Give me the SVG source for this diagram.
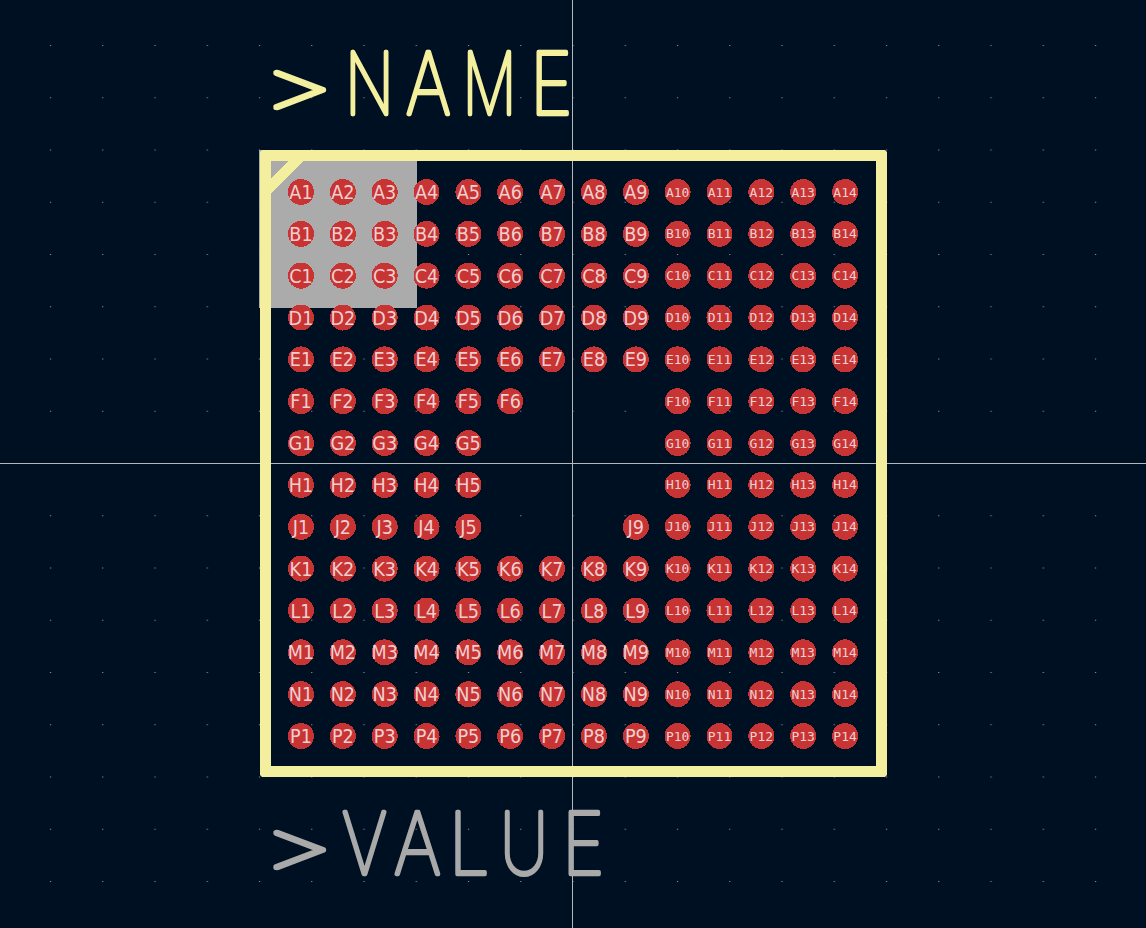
<svg xmlns="http://www.w3.org/2000/svg" width="1146" height="928" viewBox="0 0 1146 928">
<style>
.p circle{fill:#c83434;shape-rendering:crispEdges}
.p text{text-anchor:middle;fill:#efcfcf}
.a text{font-family:"DejaVu Sans",sans-serif;font-stretch:condensed;font-size:19.6px}
.b text{font-family:"DejaVu Sans Mono",monospace;font-size:13px}
.big{font-family:Inter,"Liberation Sans",sans-serif;font-weight:100;font-size:85px;stroke-width:4.4px;stroke-linejoin:round;stroke-linecap:round}
.gt{font-size:68px}
</style>
<defs>
<pattern id="grid" x="49.9" y="45" width="52.25" height="52.25" patternUnits="userSpaceOnUse"><rect width="1.2" height="1" fill="#8a9098"/></pattern>
</defs>
<rect width="1146" height="928" fill="#001023"/>
<rect width="1146" height="928" fill="url(#grid)"/>
<g id="connectors"></g>
<g id="crosshair" stroke="#b4b8bc" stroke-width="1"><path d="M572.5 0V928M0 463.5H1146" fill="none"/></g>
<rect id="anchor" x="259" y="150" width="158" height="158" fill="#ababab"/>
<g id="outline" fill="#f4ee9f"><path fill-rule="evenodd" d="M262 150H885L887 152V775L885 777H262L260 775V152ZM271 161V766H876V161Z"/><path shape-rendering="crispEdges" d="M271 178L288 161H303L271 193Z"/></g>
<text id="name" class="big" fill="#f4ee9f" stroke="#f4ee9f" lengthAdjust="spacingAndGlyphs"><tspan class="gt" x="260.5" y="109" textLength="74" lengthAdjust="spacingAndGlyphs">&gt;</tspan><tspan x="345" y="114" textLength="49" lengthAdjust="spacingAndGlyphs">N</tspan><tspan x="406" y="114" textLength="44.6" lengthAdjust="spacingAndGlyphs">A</tspan><tspan x="462.5" y="114" textLength="54" lengthAdjust="spacingAndGlyphs">M</tspan><tspan x="530.3" y="114" textLength="42" lengthAdjust="spacingAndGlyphs">E</tspan></text>
<text id="value" class="big" fill="#a9a9a9" stroke="#a9a9a9"><tspan class="gt" x="260.5" y="869" textLength="74" lengthAdjust="spacingAndGlyphs">&gt;</tspan><tspan x="342" y="874" textLength="45" lengthAdjust="spacingAndGlyphs">V</tspan><tspan x="394" y="874" textLength="46.8" lengthAdjust="spacingAndGlyphs">A</tspan><tspan x="449" y="874" textLength="40.5" lengthAdjust="spacingAndGlyphs">L</tspan><tspan x="500" y="874" textLength="48" lengthAdjust="spacingAndGlyphs">U</tspan><tspan x="562.3" y="874" textLength="42" lengthAdjust="spacingAndGlyphs">E</tspan></text>
<g class="p a">
<g id="A1" transform="translate(301 192)"><circle r="13"/><text y="7">A1</text></g>
<g id="A2" transform="translate(342.85 192)"><circle r="13"/><text y="7">A2</text></g>
<g id="A3" transform="translate(384.7 192)"><circle r="13"/><text y="7">A3</text></g>
<g id="A4" transform="translate(426.55 192)"><circle r="13"/><text y="7">A4</text></g>
<g id="A5" transform="translate(468.4 192)"><circle r="13"/><text y="7">A5</text></g>
<g id="A6" transform="translate(510.25 192)"><circle r="13"/><text y="7">A6</text></g>
<g id="A7" transform="translate(552.1 192)"><circle r="13"/><text y="7">A7</text></g>
<g id="A8" transform="translate(593.95 192)"><circle r="13"/><text y="7">A8</text></g>
<g id="A9" transform="translate(635.8 192)"><circle r="13"/><text y="7">A9</text></g>
<g id="B1" transform="translate(301 233.85)"><circle r="13"/><text y="7">B1</text></g>
<g id="B2" transform="translate(342.85 233.85)"><circle r="13"/><text y="7">B2</text></g>
<g id="B3" transform="translate(384.7 233.85)"><circle r="13"/><text y="7">B3</text></g>
<g id="B4" transform="translate(426.55 233.85)"><circle r="13"/><text y="7">B4</text></g>
<g id="B5" transform="translate(468.4 233.85)"><circle r="13"/><text y="7">B5</text></g>
<g id="B6" transform="translate(510.25 233.85)"><circle r="13"/><text y="7">B6</text></g>
<g id="B7" transform="translate(552.1 233.85)"><circle r="13"/><text y="7">B7</text></g>
<g id="B8" transform="translate(593.95 233.85)"><circle r="13"/><text y="7">B8</text></g>
<g id="B9" transform="translate(635.8 233.85)"><circle r="13"/><text y="7">B9</text></g>
<g id="C1" transform="translate(301 275.7)"><circle r="13"/><text y="7">C1</text></g>
<g id="C2" transform="translate(342.85 275.7)"><circle r="13"/><text y="7">C2</text></g>
<g id="C3" transform="translate(384.7 275.7)"><circle r="13"/><text y="7">C3</text></g>
<g id="C4" transform="translate(426.55 275.7)"><circle r="13"/><text y="7">C4</text></g>
<g id="C5" transform="translate(468.4 275.7)"><circle r="13"/><text y="7">C5</text></g>
<g id="C6" transform="translate(510.25 275.7)"><circle r="13"/><text y="7">C6</text></g>
<g id="C7" transform="translate(552.1 275.7)"><circle r="13"/><text y="7">C7</text></g>
<g id="C8" transform="translate(593.95 275.7)"><circle r="13"/><text y="7">C8</text></g>
<g id="C9" transform="translate(635.8 275.7)"><circle r="13"/><text y="7">C9</text></g>
<g id="D1" transform="translate(301 317.55)"><circle r="13"/><text y="7">D1</text></g>
<g id="D2" transform="translate(342.85 317.55)"><circle r="13"/><text y="7">D2</text></g>
<g id="D3" transform="translate(384.7 317.55)"><circle r="13"/><text y="7">D3</text></g>
<g id="D4" transform="translate(426.55 317.55)"><circle r="13"/><text y="7">D4</text></g>
<g id="D5" transform="translate(468.4 317.55)"><circle r="13"/><text y="7">D5</text></g>
<g id="D6" transform="translate(510.25 317.55)"><circle r="13"/><text y="7">D6</text></g>
<g id="D7" transform="translate(552.1 317.55)"><circle r="13"/><text y="7">D7</text></g>
<g id="D8" transform="translate(593.95 317.55)"><circle r="13"/><text y="7">D8</text></g>
<g id="D9" transform="translate(635.8 317.55)"><circle r="13"/><text y="7">D9</text></g>
<g id="E1" transform="translate(301 359.4)"><circle r="13"/><text y="7">E1</text></g>
<g id="E2" transform="translate(342.85 359.4)"><circle r="13"/><text y="7">E2</text></g>
<g id="E3" transform="translate(384.7 359.4)"><circle r="13"/><text y="7">E3</text></g>
<g id="E4" transform="translate(426.55 359.4)"><circle r="13"/><text y="7">E4</text></g>
<g id="E5" transform="translate(468.4 359.4)"><circle r="13"/><text y="7">E5</text></g>
<g id="E6" transform="translate(510.25 359.4)"><circle r="13"/><text y="7">E6</text></g>
<g id="E7" transform="translate(552.1 359.4)"><circle r="13"/><text y="7">E7</text></g>
<g id="E8" transform="translate(593.95 359.4)"><circle r="13"/><text y="7">E8</text></g>
<g id="E9" transform="translate(635.8 359.4)"><circle r="13"/><text y="7">E9</text></g>
<g id="F1" transform="translate(301 401.25)"><circle r="13"/><text y="7">F1</text></g>
<g id="F2" transform="translate(342.85 401.25)"><circle r="13"/><text y="7">F2</text></g>
<g id="F3" transform="translate(384.7 401.25)"><circle r="13"/><text y="7">F3</text></g>
<g id="F4" transform="translate(426.55 401.25)"><circle r="13"/><text y="7">F4</text></g>
<g id="F5" transform="translate(468.4 401.25)"><circle r="13"/><text y="7">F5</text></g>
<g id="F6" transform="translate(510.25 401.25)"><circle r="13"/><text y="7">F6</text></g>
<g id="G1" transform="translate(301 443.1)"><circle r="13"/><text y="7">G1</text></g>
<g id="G2" transform="translate(342.85 443.1)"><circle r="13"/><text y="7">G2</text></g>
<g id="G3" transform="translate(384.7 443.1)"><circle r="13"/><text y="7">G3</text></g>
<g id="G4" transform="translate(426.55 443.1)"><circle r="13"/><text y="7">G4</text></g>
<g id="G5" transform="translate(468.4 443.1)"><circle r="13"/><text y="7">G5</text></g>
<g id="H1" transform="translate(301 484.95)"><circle r="13"/><text y="7">H1</text></g>
<g id="H2" transform="translate(342.85 484.95)"><circle r="13"/><text y="7">H2</text></g>
<g id="H3" transform="translate(384.7 484.95)"><circle r="13"/><text y="7">H3</text></g>
<g id="H4" transform="translate(426.55 484.95)"><circle r="13"/><text y="7">H4</text></g>
<g id="H5" transform="translate(468.4 484.95)"><circle r="13"/><text y="7">H5</text></g>
<g id="J1" transform="translate(301 526.8)"><circle r="13"/><text y="7">J1</text></g>
<g id="J2" transform="translate(342.85 526.8)"><circle r="13"/><text y="7">J2</text></g>
<g id="J3" transform="translate(384.7 526.8)"><circle r="13"/><text y="7">J3</text></g>
<g id="J4" transform="translate(426.55 526.8)"><circle r="13"/><text y="7">J4</text></g>
<g id="J5" transform="translate(468.4 526.8)"><circle r="13"/><text y="7">J5</text></g>
<g id="J9" transform="translate(635.8 526.8)"><circle r="13"/><text y="7">J9</text></g>
<g id="K1" transform="translate(301 568.65)"><circle r="13"/><text y="7">K1</text></g>
<g id="K2" transform="translate(342.85 568.65)"><circle r="13"/><text y="7">K2</text></g>
<g id="K3" transform="translate(384.7 568.65)"><circle r="13"/><text y="7">K3</text></g>
<g id="K4" transform="translate(426.55 568.65)"><circle r="13"/><text y="7">K4</text></g>
<g id="K5" transform="translate(468.4 568.65)"><circle r="13"/><text y="7">K5</text></g>
<g id="K6" transform="translate(510.25 568.65)"><circle r="13"/><text y="7">K6</text></g>
<g id="K7" transform="translate(552.1 568.65)"><circle r="13"/><text y="7">K7</text></g>
<g id="K8" transform="translate(593.95 568.65)"><circle r="13"/><text y="7">K8</text></g>
<g id="K9" transform="translate(635.8 568.65)"><circle r="13"/><text y="7">K9</text></g>
<g id="L1" transform="translate(301 610.5)"><circle r="13"/><text y="7">L1</text></g>
<g id="L2" transform="translate(342.85 610.5)"><circle r="13"/><text y="7">L2</text></g>
<g id="L3" transform="translate(384.7 610.5)"><circle r="13"/><text y="7">L3</text></g>
<g id="L4" transform="translate(426.55 610.5)"><circle r="13"/><text y="7">L4</text></g>
<g id="L5" transform="translate(468.4 610.5)"><circle r="13"/><text y="7">L5</text></g>
<g id="L6" transform="translate(510.25 610.5)"><circle r="13"/><text y="7">L6</text></g>
<g id="L7" transform="translate(552.1 610.5)"><circle r="13"/><text y="7">L7</text></g>
<g id="L8" transform="translate(593.95 610.5)"><circle r="13"/><text y="7">L8</text></g>
<g id="L9" transform="translate(635.8 610.5)"><circle r="13"/><text y="7">L9</text></g>
<g id="M1" transform="translate(301 652.35)"><circle r="13"/><text y="7">M1</text></g>
<g id="M2" transform="translate(342.85 652.35)"><circle r="13"/><text y="7">M2</text></g>
<g id="M3" transform="translate(384.7 652.35)"><circle r="13"/><text y="7">M3</text></g>
<g id="M4" transform="translate(426.55 652.35)"><circle r="13"/><text y="7">M4</text></g>
<g id="M5" transform="translate(468.4 652.35)"><circle r="13"/><text y="7">M5</text></g>
<g id="M6" transform="translate(510.25 652.35)"><circle r="13"/><text y="7">M6</text></g>
<g id="M7" transform="translate(552.1 652.35)"><circle r="13"/><text y="7">M7</text></g>
<g id="M8" transform="translate(593.95 652.35)"><circle r="13"/><text y="7">M8</text></g>
<g id="M9" transform="translate(635.8 652.35)"><circle r="13"/><text y="7">M9</text></g>
<g id="N1" transform="translate(301 694.2)"><circle r="13"/><text y="7">N1</text></g>
<g id="N2" transform="translate(342.85 694.2)"><circle r="13"/><text y="7">N2</text></g>
<g id="N3" transform="translate(384.7 694.2)"><circle r="13"/><text y="7">N3</text></g>
<g id="N4" transform="translate(426.55 694.2)"><circle r="13"/><text y="7">N4</text></g>
<g id="N5" transform="translate(468.4 694.2)"><circle r="13"/><text y="7">N5</text></g>
<g id="N6" transform="translate(510.25 694.2)"><circle r="13"/><text y="7">N6</text></g>
<g id="N7" transform="translate(552.1 694.2)"><circle r="13"/><text y="7">N7</text></g>
<g id="N8" transform="translate(593.95 694.2)"><circle r="13"/><text y="7">N8</text></g>
<g id="N9" transform="translate(635.8 694.2)"><circle r="13"/><text y="7">N9</text></g>
<g id="P1" transform="translate(301 736.05)"><circle r="13"/><text y="7">P1</text></g>
<g id="P2" transform="translate(342.85 736.05)"><circle r="13"/><text y="7">P2</text></g>
<g id="P3" transform="translate(384.7 736.05)"><circle r="13"/><text y="7">P3</text></g>
<g id="P4" transform="translate(426.55 736.05)"><circle r="13"/><text y="7">P4</text></g>
<g id="P5" transform="translate(468.4 736.05)"><circle r="13"/><text y="7">P5</text></g>
<g id="P6" transform="translate(510.25 736.05)"><circle r="13"/><text y="7">P6</text></g>
<g id="P7" transform="translate(552.1 736.05)"><circle r="13"/><text y="7">P7</text></g>
<g id="P8" transform="translate(593.95 736.05)"><circle r="13"/><text y="7">P8</text></g>
<g id="P9" transform="translate(635.8 736.05)"><circle r="13"/><text y="7">P9</text></g>
</g>
<g class="p b">
<g id="A10" transform="translate(677.65 192)"><circle r="13"/><text y="4.5">A10</text></g>
<g id="A11" transform="translate(719.5 192)"><circle r="13"/><text y="4.5">A11</text></g>
<g id="A12" transform="translate(761.35 192)"><circle r="13"/><text y="4.5">A12</text></g>
<g id="A13" transform="translate(803.2 192)"><circle r="13"/><text y="4.5">A13</text></g>
<g id="A14" transform="translate(845.05 192)"><circle r="13"/><text y="4.5">A14</text></g>
<g id="B10" transform="translate(677.65 233.85)"><circle r="13"/><text y="4.5">B10</text></g>
<g id="B11" transform="translate(719.5 233.85)"><circle r="13"/><text y="4.5">B11</text></g>
<g id="B12" transform="translate(761.35 233.85)"><circle r="13"/><text y="4.5">B12</text></g>
<g id="B13" transform="translate(803.2 233.85)"><circle r="13"/><text y="4.5">B13</text></g>
<g id="B14" transform="translate(845.05 233.85)"><circle r="13"/><text y="4.5">B14</text></g>
<g id="C10" transform="translate(677.65 275.7)"><circle r="13"/><text y="4.5">C10</text></g>
<g id="C11" transform="translate(719.5 275.7)"><circle r="13"/><text y="4.5">C11</text></g>
<g id="C12" transform="translate(761.35 275.7)"><circle r="13"/><text y="4.5">C12</text></g>
<g id="C13" transform="translate(803.2 275.7)"><circle r="13"/><text y="4.5">C13</text></g>
<g id="C14" transform="translate(845.05 275.7)"><circle r="13"/><text y="4.5">C14</text></g>
<g id="D10" transform="translate(677.65 317.55)"><circle r="13"/><text y="4.5">D10</text></g>
<g id="D11" transform="translate(719.5 317.55)"><circle r="13"/><text y="4.5">D11</text></g>
<g id="D12" transform="translate(761.35 317.55)"><circle r="13"/><text y="4.5">D12</text></g>
<g id="D13" transform="translate(803.2 317.55)"><circle r="13"/><text y="4.5">D13</text></g>
<g id="D14" transform="translate(845.05 317.55)"><circle r="13"/><text y="4.5">D14</text></g>
<g id="E10" transform="translate(677.65 359.4)"><circle r="13"/><text y="4.5">E10</text></g>
<g id="E11" transform="translate(719.5 359.4)"><circle r="13"/><text y="4.5">E11</text></g>
<g id="E12" transform="translate(761.35 359.4)"><circle r="13"/><text y="4.5">E12</text></g>
<g id="E13" transform="translate(803.2 359.4)"><circle r="13"/><text y="4.5">E13</text></g>
<g id="E14" transform="translate(845.05 359.4)"><circle r="13"/><text y="4.5">E14</text></g>
<g id="F10" transform="translate(677.65 401.25)"><circle r="13"/><text y="4.5">F10</text></g>
<g id="F11" transform="translate(719.5 401.25)"><circle r="13"/><text y="4.5">F11</text></g>
<g id="F12" transform="translate(761.35 401.25)"><circle r="13"/><text y="4.5">F12</text></g>
<g id="F13" transform="translate(803.2 401.25)"><circle r="13"/><text y="4.5">F13</text></g>
<g id="F14" transform="translate(845.05 401.25)"><circle r="13"/><text y="4.5">F14</text></g>
<g id="G10" transform="translate(677.65 443.1)"><circle r="13"/><text y="4.5">G10</text></g>
<g id="G11" transform="translate(719.5 443.1)"><circle r="13"/><text y="4.5">G11</text></g>
<g id="G12" transform="translate(761.35 443.1)"><circle r="13"/><text y="4.5">G12</text></g>
<g id="G13" transform="translate(803.2 443.1)"><circle r="13"/><text y="4.5">G13</text></g>
<g id="G14" transform="translate(845.05 443.1)"><circle r="13"/><text y="4.5">G14</text></g>
<g id="H10" transform="translate(677.65 484.95)"><circle r="13"/><text y="4.5">H10</text></g>
<g id="H11" transform="translate(719.5 484.95)"><circle r="13"/><text y="4.5">H11</text></g>
<g id="H12" transform="translate(761.35 484.95)"><circle r="13"/><text y="4.5">H12</text></g>
<g id="H13" transform="translate(803.2 484.95)"><circle r="13"/><text y="4.5">H13</text></g>
<g id="H14" transform="translate(845.05 484.95)"><circle r="13"/><text y="4.5">H14</text></g>
<g id="J10" transform="translate(677.65 526.8)"><circle r="13"/><text y="4.5">J10</text></g>
<g id="J11" transform="translate(719.5 526.8)"><circle r="13"/><text y="4.5">J11</text></g>
<g id="J12" transform="translate(761.35 526.8)"><circle r="13"/><text y="4.5">J12</text></g>
<g id="J13" transform="translate(803.2 526.8)"><circle r="13"/><text y="4.5">J13</text></g>
<g id="J14" transform="translate(845.05 526.8)"><circle r="13"/><text y="4.5">J14</text></g>
<g id="K10" transform="translate(677.65 568.65)"><circle r="13"/><text y="4.5">K10</text></g>
<g id="K11" transform="translate(719.5 568.65)"><circle r="13"/><text y="4.5">K11</text></g>
<g id="K12" transform="translate(761.35 568.65)"><circle r="13"/><text y="4.5">K12</text></g>
<g id="K13" transform="translate(803.2 568.65)"><circle r="13"/><text y="4.5">K13</text></g>
<g id="K14" transform="translate(845.05 568.65)"><circle r="13"/><text y="4.5">K14</text></g>
<g id="L10" transform="translate(677.65 610.5)"><circle r="13"/><text y="4.5">L10</text></g>
<g id="L11" transform="translate(719.5 610.5)"><circle r="13"/><text y="4.5">L11</text></g>
<g id="L12" transform="translate(761.35 610.5)"><circle r="13"/><text y="4.5">L12</text></g>
<g id="L13" transform="translate(803.2 610.5)"><circle r="13"/><text y="4.5">L13</text></g>
<g id="L14" transform="translate(845.05 610.5)"><circle r="13"/><text y="4.5">L14</text></g>
<g id="M10" transform="translate(677.65 652.35)"><circle r="13"/><text y="4.5">M10</text></g>
<g id="M11" transform="translate(719.5 652.35)"><circle r="13"/><text y="4.5">M11</text></g>
<g id="M12" transform="translate(761.35 652.35)"><circle r="13"/><text y="4.5">M12</text></g>
<g id="M13" transform="translate(803.2 652.35)"><circle r="13"/><text y="4.5">M13</text></g>
<g id="M14" transform="translate(845.05 652.35)"><circle r="13"/><text y="4.5">M14</text></g>
<g id="N10" transform="translate(677.65 694.2)"><circle r="13"/><text y="4.5">N10</text></g>
<g id="N11" transform="translate(719.5 694.2)"><circle r="13"/><text y="4.5">N11</text></g>
<g id="N12" transform="translate(761.35 694.2)"><circle r="13"/><text y="4.5">N12</text></g>
<g id="N13" transform="translate(803.2 694.2)"><circle r="13"/><text y="4.5">N13</text></g>
<g id="N14" transform="translate(845.05 694.2)"><circle r="13"/><text y="4.5">N14</text></g>
<g id="P10" transform="translate(677.65 736.05)"><circle r="13"/><text y="4.5">P10</text></g>
<g id="P11" transform="translate(719.5 736.05)"><circle r="13"/><text y="4.5">P11</text></g>
<g id="P12" transform="translate(761.35 736.05)"><circle r="13"/><text y="4.5">P12</text></g>
<g id="P13" transform="translate(803.2 736.05)"><circle r="13"/><text y="4.5">P13</text></g>
<g id="P14" transform="translate(845.05 736.05)"><circle r="13"/><text y="4.5">P14</text></g>
</g>
</svg>
